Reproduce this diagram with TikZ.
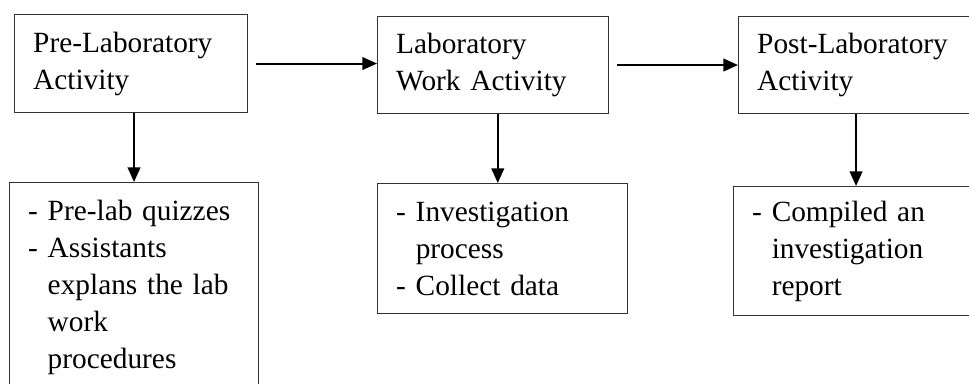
\documentclass[tikz,border=0pt]{standalone}
\usepackage{fontspec}
\setmainfont{Liberation Serif}
\usepackage{tikz}
\usetikzlibrary{arrows.meta,positioning,calc}
\definecolor{edgegray}{HTML}{333333}
\tikzset{
  stagebox/.style={draw=edgegray,line width=0.8pt,anchor=north west,align=left,inner xsep=14pt,inner ysep=4pt,font=\fontsize{22pt}{27.75pt}\selectfont},
  arrow/.style={-{Triangle[length=11pt,width=9.5pt]},line width=1.5pt,draw=black}
}
\begin{document}
\begin{tikzpicture}[x=0.75pt,y=-0.75pt]
  \useasboundingbox (0,0) rectangle (969,383);
  % stages along the top
  \node[stagebox,text width=146.75pt,minimum height=73.5pt] (pre) at (14,14) {Pre-Laboratory\\Activity};
  \node[stagebox,text width=145.25pt,minimum height=72.75pt] (work) at (377,16) {Laboratory\\Work Activity};
  \node[stagebox,text width=152pt,minimum height=72.75pt] (post) at (738,16) {Post-Laboratory\\Activity};
  % tasks under each stage
  \node[stagebox,text width=158.75pt,minimum height=157.5pt] (pretask) at (9,182) {- Pre-lab quizzes\\- Assistants\\\phantom{- }explans the lab\\\phantom{- }work\\\phantom{- }procedures};
  \node[stagebox,text width=159.5pt,minimum height=97.5pt] (worktask) at (377,183) {- Investigation\\\phantom{- }process\\- Collect data};
  \node[stagebox,text width=155.75pt,minimum height=96.75pt] (posttask) at (733,186) {- Compiled an\\\phantom{- }investigation\\\phantom{- }report};
  \coordinate (workdown) at ($(work.south)!0.5!(work.south -| worktask.north)$);
  \draw[arrow,shorten <=6pt] (pre.east) -- (pre.east -| work.west);
  \draw[arrow,shorten <=6pt] (work.east) -- (work.east -| post.west);
  \draw[arrow] (pre.south -| pretask.north) -- (pretask.north);
  \draw[arrow] (workdown) -- (workdown |- worktask.north);
  \draw[arrow] (post.south -| posttask.north) -- (posttask.north);
\end{tikzpicture}
\end{document}
